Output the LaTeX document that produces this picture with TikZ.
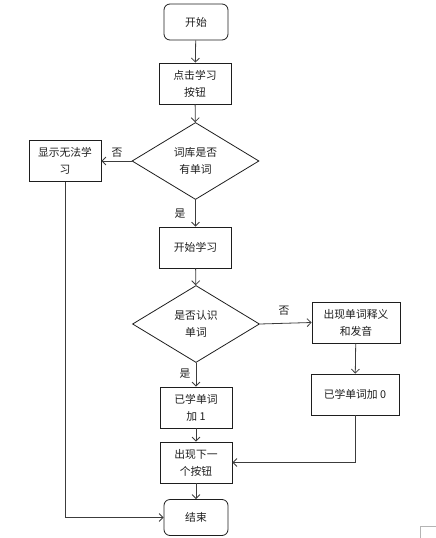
\documentclass[tikz,border=0pt]{standalone}
\usepackage{fontspec}
\setmainfont{Noto Sans CJK SC}
\usetikzlibrary{shapes.geometric,arrows.meta}
\definecolor{ink}{HTML}{1E1E1E}
\definecolor{wire}{HTML}{3C3C3C}
\definecolor{soft}{HTML}{B4B4B4}

\begin{document}
\begin{tikzpicture}[
    x=1pt, y=-1pt,
    box/.style={rectangle, draw=ink, fill=white, line width=0.8pt, minimum width=72pt,
                minimum height=41pt, inner sep=2pt, align=center, text=ink,
                font=\fontsize{10.8}{17}\selectfont},
    term/.style={box, rounded corners=6pt, minimum width=64pt, minimum height=36pt},
    decision/.style={diamond, draw=ink, fill=white, line width=0.8pt, aspect=1.65,
                     minimum width=127pt, minimum height=77pt, inner sep=0pt, align=center,
                     text=ink, font=\fontsize{10.8}{17}\selectfont},
    flow/.style={draw=wire, line width=0.8pt, -{Straight Barb[length=4pt,width=8pt]}},
    tag/.style={font=\fontsize{10.8}{12}\selectfont, text=ink, inner sep=1pt},
  ]
  \useasboundingbox (0,0) rectangle (436,538);

  % Hauptstrang in der Mitte
  \node[term]     (start)   at (196, 22)    {开始};
  \node[box]      (click)   at (195, 83.5)  {点击学习\\按钮};
  \node[decision] (hasword) at (195.5, 161) {词库是否\\有单词};
  \node[box]      (fail)    at (65, 161)    {显示无法学\\习};
  \node[box]      (learn)   at (195.5, 247.5) {开始学习};
  \node[decision] (known)   at (196, 324)   {是否认识\\单词};
  \node[box, minimum width=88pt] (meaning) at (356, 322.5) {出现单词释义\\和发音};
  \node[box, minimum width=88pt] (addzero) at (355, 394.5) {已学单词加 0};
  \node[box]      (addone)  at (196, 407.5) {已学单词\\加 1};
  \node[box]      (next)    at (196, 462.5) {出现下一\\个按钮};
  \node[term]     (stop)    at (196, 517.5) {结束};

  % Verbindungen
  \draw[flow] (start) -- (click);
  \draw[flow] (click) -- (hasword);
  \draw[flow] (hasword.west) -- (fail.east);
  \draw[flow] (hasword.south) -- (learn);
  \draw[flow] (learn) -- (known);
  \draw[flow] (known.east) -- (meaning.west);
  \draw[flow] (meaning) -- (addzero);
  \draw[flow] (known.south) -- (addone);
  \draw[flow] (addone) -- (next);
  \draw[flow] (addzero.south) |- (next.east);
  \draw[flow] (next) -- (stop);
  \draw[flow] (fail.south) |- (stop.west);

  % Ja/Nein an den Verzweigungen
  \node[tag] (no1)  at (117, 153) {否};
  \node[tag] (yes1) at (180, 214) {是};
  \node[tag] (no2)  at (284, 311) {否};
  \node[tag] (yes2) at (185, 374) {是};

  % Seitenecke unten rechts
  \draw[soft, line width=0.6pt] (420, 538) -- (420, 526) -- (436, 526);

\end{tikzpicture}
\end{document}
